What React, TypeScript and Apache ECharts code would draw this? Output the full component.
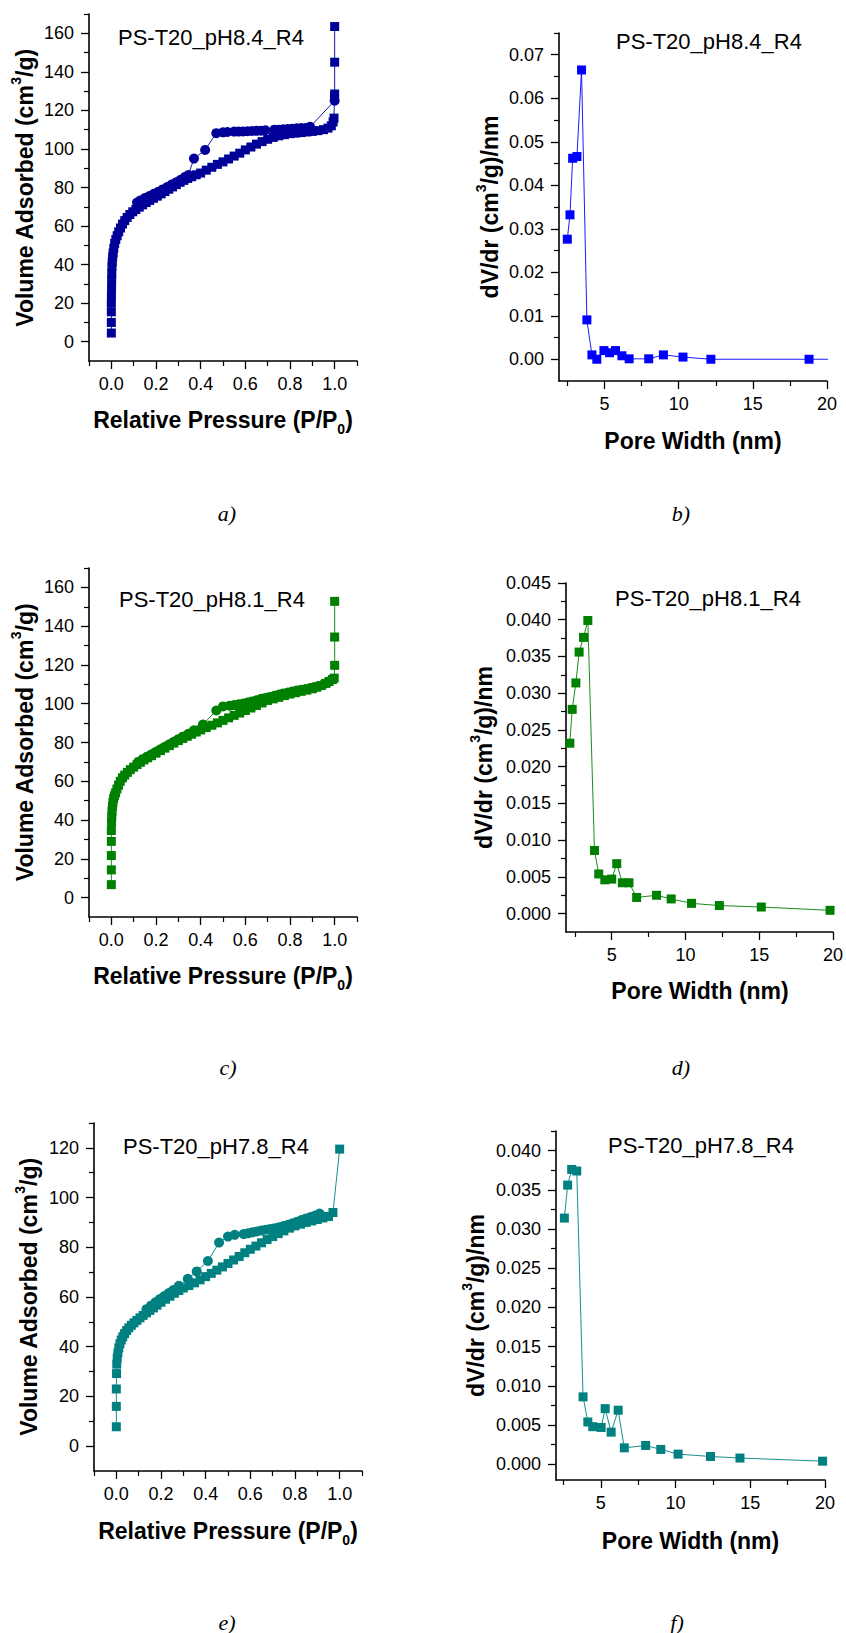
import React, { useEffect, useRef } from 'react';
import * as echarts from 'echarts';

// ---------- DATA ----------
// a) PS-T20_pH8.4_R4 isotherm
const isoA_ads: number[][] = [
  [0, 4.5], [0, 10], [0, 15.5], [0, 20], [0.0005, 24], [0.001, 28], [0.0015, 32], [0.002, 35.5], [0.003, 39], [0.004, 41.5],
  [0.006, 44], [0.008, 46], [0.011, 48.5], [0.015, 51], [0.02, 53], [0.026, 55], [0.033, 57], [0.041, 59], [0.05, 61], [0.06, 62.8],
  [0.071, 64.5], [0.083, 66], [0.096, 67.4], [0.11, 68.6], [0.125, 69.8], [0.14, 71], [0.156, 72.2], [0.172, 73.3], [0.189, 74.4], [0.206, 75.5],
  [0.223, 76.7], [0.24, 77.9], [0.257, 79.1], [0.274, 80.3], [0.291, 81.5], [0.308, 82.7], [0.325, 83.7], [0.342, 84.7], [0.36, 85.6], [0.38, 86.6],
  [0.4, 87.5], [0.425, 89], [0.45, 90.5], [0.475, 92], [0.5, 93.3], [0.525, 94.8], [0.55, 96.3], [0.575, 97.8], [0.6, 99.5], [0.625, 101],
  [0.65, 102.5], [0.675, 103.8], [0.7, 105], [0.725, 106], [0.75, 106.8], [0.775, 107.4], [0.8, 107.9], [0.825, 108.2], [0.85, 108.5], [0.875, 108.8],
  [0.9, 109.1], [0.925, 109.5], [0.95, 110], [0.97, 110.8], [0.985, 112], [0.993, 114], [0.997, 116], [0.999, 127], [1.0, 128.5], [1.0, 145], [1.0, 163.5],
];
const isoA_des: number[][] = [
  [1.0, 125], [0.89, 111.5], [0.87, 110.8], [0.85, 110.8], [0.83, 110.7], [0.81, 110.5], [0.79, 110.3], [0.77, 110.2], [0.75, 110], [0.73, 110],
  [0.69, 109.7], [0.67, 109.5], [0.65, 109.4], [0.63, 109.3], [0.61, 109.2], [0.59, 109.1], [0.57, 109], [0.55, 109], [0.52, 108.8], [0.5, 108.6],
  [0.47, 108.2], [0.42, 99.5], [0.37, 95], [0.345, 86.5], [0.33, 85.5], [0.31, 84], [0.29, 82.7], [0.27, 81.5], [0.25, 80.2], [0.23, 79],
  [0.21, 77.8], [0.19, 76.7], [0.17, 75.6], [0.15, 74.5], [0.13, 73.3], [0.115, 72.2],
];

// b) PS-T20_pH8.4_R4 pore size distribution
const psdB_width = [2.49, 2.67, 2.85, 3.14, 3.45, 3.81, 4.15, 4.48, 4.96, 5.34, 5.74, 6.17, 6.66, 7.98, 8.97, 10.29, 12.17, 18.79, 21.5];
const psdB_dvdr = [0.0276, 0.0332, 0.0462, 0.0466, 0.0665, 0.00905, 0.001, 0.0, 0.002, 0.0015, 0.002, 0.0008, 0.0001, 0.0001, 0.001, 0.0005, 0.0, 0.0, 0.0];

// c) PS-T20_pH8.1_R4 isotherm
const isoC_ads: number[][] = [
  [0, 6.7], [0, 14.3], [0, 21.7], [0, 29], [0, 34.6], [0.001, 39], [0.002, 42], [0.003, 44.5], [0.005, 47], [0.007, 49],
  [0.01, 51], [0.014, 52.5], [0.019, 54], [0.025, 56], [0.032, 58], [0.04, 60], [0.05, 61.8], [0.06, 63.2], [0.072, 64.6], [0.085, 66],
  [0.1, 67.3], [0.115, 68.6], [0.13, 69.8], [0.146, 71], [0.163, 72.1], [0.18, 73.2], [0.2, 74.5], [0.22, 75.8], [0.24, 77.1], [0.26, 78.4],
  [0.28, 79.7], [0.3, 81], [0.32, 82.1], [0.34, 83.2], [0.36, 84.3], [0.38, 85.4], [0.4, 86.5], [0.425, 87.7], [0.45, 88.9], [0.475, 90.1],
  [0.5, 91.4], [0.525, 92.7], [0.55, 94], [0.575, 95.2], [0.6, 96.5], [0.625, 97.8], [0.65, 99.1], [0.675, 100.4], [0.7, 101.7], [0.725, 102.5],
  [0.75, 103.3], [0.775, 104.2], [0.8, 105], [0.825, 105.7], [0.85, 106.4], [0.875, 107], [0.9, 107.7], [0.92, 108.5], [0.94, 109.4], [0.96, 110.5],
  [0.975, 111.5], [0.99, 112.5], [0.998, 113.2], [1.0, 119.8], [1.0, 134.4], [1.0, 152.8],
];
const isoC_des: number[][] = [
  [0.99, 112.5], [0.97, 111], [0.95, 110], [0.93, 109.2], [0.91, 108.6], [0.89, 108.1], [0.87, 107.6], [0.85, 107.2], [0.83, 106.8], [0.81, 106.3],
  [0.79, 105.8], [0.77, 105.3], [0.75, 104.7], [0.73, 104.1], [0.71, 103.5], [0.69, 103], [0.67, 102.5], [0.65, 101.8], [0.63, 101.2], [0.61, 100.6],
  [0.59, 100.1], [0.57, 99.7], [0.55, 99.3], [0.53, 99], [0.5, 98.6], [0.47, 96.5], [0.41, 89.3], [0.37, 86.3], [0.345, 84.5], [0.32, 83],
  [0.3, 81.7], [0.28, 80.4], [0.26, 79.1], [0.24, 77.8], [0.22, 76.5], [0.2, 75.2], [0.18, 73.9], [0.16, 72.7], [0.14, 71.4], [0.12, 70],
];

// d) PS-T20_pH8.1_R4 pore size distribution
const psdD_width = [2.16, 2.32, 2.57, 2.79, 3.09, 3.38, 3.83, 4.12, 4.53, 5.0, 5.34, 5.72, 6.17, 6.69, 8.04, 9.03, 10.41, 12.3, 15.14, 19.8];
const psdD_dvdr = [0.0232, 0.0278, 0.0314, 0.0356, 0.0376, 0.0399, 0.0086, 0.0054, 0.0046, 0.0047, 0.0068, 0.0042, 0.0042, 0.0022, 0.0025, 0.002, 0.0014, 0.0011, 0.0009, 0.00045];

// e) PS-T20_pH7.8_R4 isotherm
const isoE_ads: number[][] = [
  [0, 7.8], [0, 16], [0, 23], [0.001, 29.2], [0.002, 33], [0.004, 35.5], [0.007, 37.5], [0.011, 39.5], [0.016, 41.2], [0.022, 42.7],
  [0.029, 44], [0.037, 45.3], [0.046, 46.5], [0.056, 47.6], [0.067, 48.6], [0.079, 49.6], [0.092, 50.6], [0.106, 51.6], [0.12, 52.6], [0.135, 53.6],
  [0.15, 54.6], [0.166, 55.6], [0.182, 56.7], [0.2, 57.9], [0.22, 59.1], [0.24, 60.3], [0.26, 61.5], [0.28, 62.6], [0.3, 63.6], [0.325, 64.6],
  [0.35, 65.7], [0.375, 66.9], [0.4, 68.2], [0.425, 69.5], [0.45, 70.8], [0.475, 72.1], [0.5, 73.5], [0.525, 74.9], [0.55, 76.3], [0.575, 77.8],
  [0.6, 79.2], [0.625, 80.5], [0.65, 81.8], [0.675, 83.1], [0.7, 84.3], [0.725, 85.5], [0.75, 86.6], [0.775, 87.7], [0.8, 88.6], [0.825, 89.3],
  [0.85, 90], [0.875, 90.6], [0.9, 91.2], [0.925, 91.8], [0.95, 92.4], [0.97, 94], [1.0, 119.5],
];
const isoE_des: number[][] = [
  [0.91, 93.6], [0.89, 92.8], [0.87, 92.2], [0.85, 91.6], [0.83, 91], [0.81, 90.3], [0.79, 89.7], [0.77, 89.1], [0.75, 88.6], [0.73, 88.1],
  [0.71, 87.7], [0.69, 87.4], [0.67, 87.1], [0.65, 86.8], [0.63, 86.4], [0.61, 86], [0.59, 85.6], [0.57, 85.3], [0.53, 85], [0.5, 84.3],
  [0.46, 81.9], [0.41, 74.5], [0.36, 70.3], [0.32, 67.3], [0.28, 64.5], [0.255, 62.8], [0.235, 61.6], [0.215, 60.4], [0.195, 59.2], [0.175, 57.9],
  [0.155, 56.5], [0.135, 55.1],
];

// f) PS-T20_pH7.8_R4 pore size distribution
const psdF_width = [2.56, 2.78, 3.05, 3.39, 3.81, 4.13, 4.46, 5.02, 5.29, 5.69, 6.16, 6.57, 8.0, 9.01, 10.17, 12.34, 14.31, 19.84];
const psdF_dvdr = [0.0314, 0.0356, 0.0376, 0.0374, 0.0086, 0.0054, 0.0048, 0.0047, 0.0071, 0.0041, 0.0069, 0.0021, 0.0024, 0.0019, 0.0013, 0.001, 0.0008, 0.0004];

// ticks
const isoXMajor = [0, 0.2, 0.4, 0.6, 0.8, 1.0];
const isoXMinor = [-0.1, 0.1, 0.3, 0.5, 0.7, 0.9, 1.1];
const isoYMajorAC = [0, 20, 40, 60, 80, 100, 120, 140, 160];
const isoYMinorAC = [10, 30, 50, 70, 90, 110, 130, 150, 170];
const isoYMajorE = [0, 20, 40, 60, 80, 100, 120];
const isoYMinorE = [10, 30, 50, 70, 90, 110, 130];
const psdXMajor = [5, 10, 15, 20];
const psdXMinor = [2.5, 7.5, 12.5, 17.5];
const psdYMajorB = [0, 0.01, 0.02, 0.03, 0.04, 0.05, 0.06, 0.07];
const psdYMinorB = [0.005, 0.015, 0.025, 0.035, 0.045, 0.055, 0.065, 0.075];
const psdYMajorD = [0, 0.005, 0.01, 0.015, 0.02, 0.025, 0.03, 0.035, 0.04, 0.045];
const psdYMinorD = [0.0025, 0.0075, 0.0125, 0.0175, 0.0225, 0.0275, 0.0325, 0.0375, 0.0425];
const psdYMajorF = [0, 0.005, 0.01, 0.015, 0.02, 0.025, 0.03, 0.035, 0.04];
const psdYMinorF = [0.0025, 0.0075, 0.0125, 0.0175, 0.0225, 0.0275, 0.0325, 0.0375, 0.0425];

const sampleNames = ['PS-T20_pH8.4_R4', 'PS-T20_pH8.4_R4', 'PS-T20_pH8.1_R4', 'PS-T20_pH8.1_R4', 'PS-T20_pH7.8_R4', 'PS-T20_pH7.8_R4'];
const captions = ['a)', 'b)', 'c)', 'd)', 'e)', 'f)'];

const zip = (xs: number[], ys: number[]) => xs.map((x, i) => [x, ys[i]]);

// ---------- LAYOUT / STYLE ----------
const FONT = "'Liberation Sans', Arial, sans-serif";
const SERIF = "'Liberation Serif', 'Times New Roman', serif";

type Panel = {
  grid: { left: number; top: number; width: number; height: number };
  xRange: [number, number]; yRange: [number, number];
  xMajor: number[]; xMinor: number[]; yMajor: number[]; yMinor: number[];
  xDec: number; yDec: number;
  color: string;
  kind: 'iso' | 'psd';
  ads?: number[][]; des?: number[][]; psd?: number[][];
  xTitle: [number, number]; yTitle: [number, number];
  note: [number, number]; cap: [number, number];
};

const panels: Panel[] = [
  {
    grid: { left: 89, top: 14, width: 268, height: 347 }, xRange: [-0.1, 1.1], yRange: [-10, 170],
    xMajor: isoXMajor, xMinor: isoXMinor, yMajor: isoYMajorAC, yMinor: isoYMinorAC, xDec: 1, yDec: 0,
    color: '#000099', kind: 'iso', ads: isoA_ads, des: isoA_des,
    xTitle: [223, 420], yTitle: [24.5, 188], note: [118, 37], cap: [227, 513],
  },
  {
    grid: { left: 559, top: 33, width: 268, height: 348 }, xRange: [1.93, 20], yRange: [-0.005, 0.075],
    xMajor: psdXMajor, xMinor: psdXMinor, yMajor: psdYMajorB, yMinor: psdYMinorB, xDec: 0, yDec: 2,
    color: '#0000FF', kind: 'psd', psd: zip(psdB_width, psdB_dvdr),
    xTitle: [693, 441], yTitle: [490, 207], note: [616, 41], cap: [681, 513],
  },
  {
    grid: { left: 89, top: 568, width: 268, height: 349 }, xRange: [-0.1, 1.1], yRange: [-10, 170],
    xMajor: isoXMajor, xMinor: isoXMinor, yMajor: isoYMajorAC, yMinor: isoYMinorAC, xDec: 1, yDec: 0,
    color: '#008000', kind: 'iso', ads: isoC_ads, des: isoC_des,
    xTitle: [223, 976], yTitle: [24.5, 742.5], note: [119, 599], cap: [228, 1067],
  },
  {
    grid: { left: 566, top: 583, width: 268, height: 349 }, xRange: [1.9, 20], yRange: [-0.0025, 0.045],
    xMajor: psdXMajor, xMinor: psdXMinor, yMajor: psdYMajorD, yMinor: psdYMinorD, xDec: 0, yDec: 3,
    color: '#008000', kind: 'psd', psd: zip(psdD_width, psdD_dvdr),
    xTitle: [700, 991], yTitle: [483.5, 757.5], note: [615, 598], cap: [681, 1067],
  },
  {
    grid: { left: 94, top: 1123, width: 268, height: 348 }, xRange: [-0.1, 1.1], yRange: [-10, 130],
    xMajor: isoXMajor, xMinor: isoXMinor, yMajor: isoYMajorE, yMinor: isoYMinorE, xDec: 1, yDec: 0,
    color: '#008080', kind: 'iso', ads: isoE_ads, des: isoE_des,
    xTitle: [228, 1531], yTitle: [28.7, 1297], note: [123, 1146], cap: [227, 1622],
  },
  {
    grid: { left: 556, top: 1131, width: 269, height: 349 }, xRange: [2.0, 20], yRange: [-0.002, 0.0425],
    xMajor: psdXMajor, xMinor: psdXMinor, yMajor: psdYMajorF, yMinor: psdYMinorF, xDec: 0, yDec: 3,
    color: '#008080', kind: 'psd', psd: zip(psdF_width, psdF_dvdr),
    xTitle: [690.5, 1541], yTitle: [476, 1305.5], note: [608, 1145], cap: [677, 1622],
  },
];

const titleRich = {
  b: { fontSize: 23, fontWeight: 'bold', fontFamily: FONT, fill: '#000', color: '#000', lineHeight: 32 },
  sup: { fontSize: 14, fontWeight: 'bold', fontFamily: FONT, fill: '#000', color: '#000', lineHeight: 14, verticalAlign: 'top' },
  sub: { fontSize: 14, fontWeight: 'bold', fontFamily: FONT, fill: '#000', color: '#000', lineHeight: 14, verticalAlign: 'bottom' },
};

function buildOption() {
  const grid: any[] = [];
  const xAxis: any[] = [];
  const yAxis: any[] = [];
  const series: any[] = [];
  const graphic: any[] = [];

  panels.forEach((p, i) => {
    grid.push({ ...p.grid, containLabel: false });
    const axisLine = { onZero: false, lineStyle: { color: '#000', width: 1.6 } };
    const lbl = { color: '#000', fontSize: 18, fontFamily: FONT };
    xAxis.push({
      gridIndex: i, type: 'value', position: 'bottom', min: p.xRange[0], max: p.xRange[1],
      axisLine, splitLine: { show: false },
      axisTick: { show: true, inside: false, length: 8, customValues: p.xMajor, lineStyle: { color: '#000', width: 1.3 } },
      axisLabel: { ...lbl, margin: 14, customValues: p.xMajor, formatter: (v: number) => v.toFixed(p.xDec) },
    });
    xAxis.push({
      gridIndex: i, type: 'value', position: 'bottom', min: p.xRange[0], max: p.xRange[1],
      axisLine: { show: false, onZero: false }, splitLine: { show: false },
      axisTick: { show: true, inside: false, length: 5, customValues: p.xMinor, lineStyle: { color: '#000', width: 1.2 } },
      axisLabel: { show: false },
    });
    yAxis.push({
      gridIndex: i, type: 'value', position: 'left', min: p.yRange[0], max: p.yRange[1],
      axisLine, splitLine: { show: false },
      axisTick: { show: true, inside: false, length: 8, customValues: p.yMajor, lineStyle: { color: '#000', width: 1.3 } },
      axisLabel: { ...lbl, margin: 15, customValues: p.yMajor, formatter: (v: number) => v.toFixed(p.yDec) },
    });
    yAxis.push({
      gridIndex: i, type: 'value', position: 'left', min: p.yRange[0], max: p.yRange[1],
      axisLine: { show: false, onZero: false }, splitLine: { show: false },
      axisTick: { show: true, inside: false, length: 5, customValues: p.yMinor, lineStyle: { color: '#000', width: 1.2 } },
      axisLabel: { show: false },
    });

    const base = {
      type: 'line', xAxisIndex: 2 * i, yAxisIndex: 2 * i, showSymbol: true, showAllSymbol: true,
      silent: true, clip: true, itemStyle: { color: p.color },
      lineStyle: { color: p.color, width: 0.9 },
    };
    if (p.kind === 'iso') {
      series.push({ ...base, data: p.ads, symbol: 'rect', symbolSize: 9 });
      series.push({ ...base, data: p.des, symbol: 'circle', symbolSize: 10 });
    } else {
      series.push({ ...base, data: p.psd, symbol: 'rect', symbolSize: 9 });
    }

    // sample annotation
    graphic.push({
      type: 'text', x: p.note[0], y: p.note[1], silent: true,
      style: { text: sampleNames[i], fontSize: 22, fontFamily: FONT, fill: '#000', align: 'left', verticalAlign: 'middle' },
    });
    // x title
    const xt = p.kind === 'iso' ? '{b|Relative Pressure (P/P}{sub|0}{b|)}' : '{b|Pore Width (nm)}';
    graphic.push({
      type: 'text', x: p.xTitle[0], y: p.xTitle[1], silent: true,
      style: { text: xt, rich: titleRich, align: 'center', verticalAlign: 'middle', fill: '#000' },
    });
    // y title
    const yt = p.kind === 'iso' ? '{b|Volume Adsorbed (cm}{sup|3}{b|/g)}' : '{b|dV/dr (cm}{sup|3}{b|/g)/nm}';
    graphic.push({
      type: 'text', x: p.yTitle[0], y: p.yTitle[1], rotation: Math.PI / 2, silent: true,
      style: { text: yt, rich: titleRich, align: 'center', verticalAlign: 'middle', fill: '#000' },
    });
    // caption
    graphic.push({
      type: 'text', x: p.cap[0], y: p.cap[1], silent: true,
      style: { text: captions[i], fontSize: 22, fontStyle: 'italic', fontFamily: SERIF, fill: '#000', align: 'center', verticalAlign: 'middle' },
    });
  });

  return {
    animation: false,
    backgroundColor: '#fff',
    grid, xAxis, yAxis, series, graphic,
  };
}

export default function App() {
  const ref = useRef<HTMLDivElement>(null);
  useEffect(() => {
    document.body.style.margin = '0';
    document.body.style.overflow = 'hidden';
    const chart = echarts.init(ref.current!, null, { renderer: 'svg' });
    chart.setOption(buildOption() as any);
    return () => chart.dispose();
  }, []);
  return <div ref={ref} style={{ width: 846, height: 1633, position: 'absolute', left: 0, top: 0 }} />;
}
